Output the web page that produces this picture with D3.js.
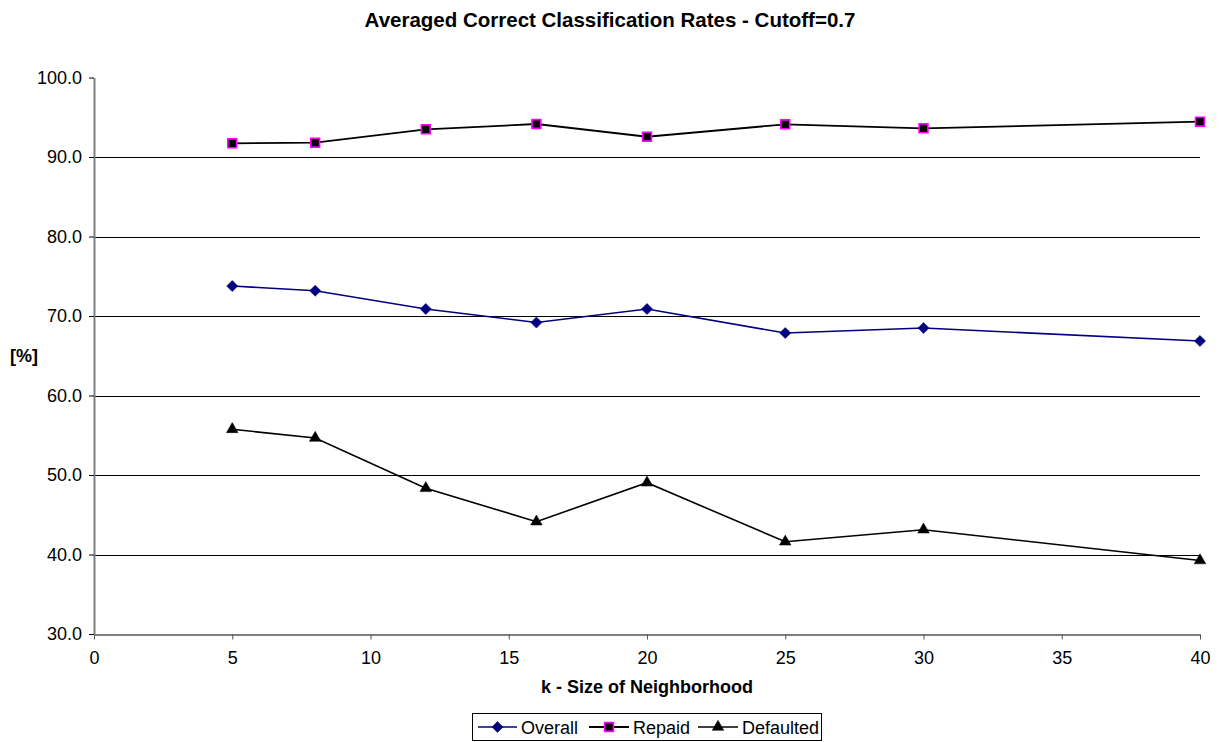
<!DOCTYPE html>
<html>
<head>
<meta charset="utf-8">
<script src="https://cdn.jsdelivr.net/npm/d3@7"></script>
<style>
  html, body { margin: 0; padding: 0; background: #fff; }
  svg { display: block; font-family: "Liberation Sans", Arial, sans-serif; }
</style>
</head>
<body>
<svg id="chart" width="1220" height="742"></svg>
<script>
// ---- data ----
const kValues = [5, 8, 12, 16, 20, 25, 30, 40];
const overall = [73.77, 73.18, 70.88, 69.18, 70.88, 67.86, 68.49, 66.86];
const repaid = [91.72, 91.80, 93.48, 94.15, 92.55, 94.11, 93.61, 94.44];
const defaulted = [55.75, 54.65, 48.33, 44.13, 49.03, 41.60, 43.12, 39.25];
const seriesNames = ["Overall", "Repaid", "Defaulted"];
const xTicks = [0, 5, 10, 15, 20, 25, 30, 35, 40];
const yTicks = [30, 40, 50, 60, 70, 80, 90, 100];
const titleText = "Averaged Correct Classification Rates - Cutoff=0.7";
const xTitle = "k - Size of Neighborhood";
const yTitle = "[%]";

(function () {
// ---- layout ----
const svg = d3.select("#chart");
const pLeft = 94, pRight = 1200, pTop = 77.5, pBottom = 634;
const x = d3.scaleLinear().domain([0, 40]).range([pLeft, pRight]);
const y = d3.scaleLinear().domain([30, 100]).range([pBottom, pTop]);

// gridlines
svg.append("g")
  .selectAll("line")
  .data(yTicks.filter(d => d > 30 && d < 100))
  .join("line")
  .attr("x1", pLeft).attr("x2", pRight)
  .attr("y1", d => Math.round(y(d)) + 0.5).attr("y2", d => Math.round(y(d)) + 0.5)
  .attr("stroke", "#000").attr("stroke-width", 1);

// x axis
const xAxis = svg.append("g")
  .attr("transform", `translate(0,${Math.round(pBottom) + 0.5})`)
  .call(d3.axisBottom(x).tickValues(xTicks).tickSizeInner(5).tickSizeOuter(0).tickFormat(d3.format("d")));
xAxis.select(".domain").attr("stroke", "#000").attr("stroke-width", 1.2);
xAxis.selectAll(".tick line").attr("stroke", "#555");
xAxis.selectAll(".tick text").attr("font-size", 18).attr("fill", "#000").attr("dy", "1.2em")
  .attr("font-family", "Liberation Sans, Arial, sans-serif");

// y axis
const yAxis = svg.append("g")
  .attr("transform", `translate(${pLeft},0)`)
  .call(d3.axisLeft(y).tickValues(yTicks).tickSizeInner(5).tickSizeOuter(0).tickFormat(d3.format(".1f")));
yAxis.select(".domain").attr("stroke", "#808080").attr("stroke-width", 2);
yAxis.selectAll(".tick line").attr("stroke", "#000");
yAxis.selectAll(".tick text").attr("font-size", 18).attr("fill", "#000").attr("x", -12)
  .attr("font-family", "Liberation Sans, Arial, sans-serif");

// titles
svg.append("text").attr("x", 610).attr("y", 27).attr("text-anchor", "middle")
  .attr("font-size", 20.5).attr("font-weight", "bold").text(titleText);
svg.append("text").attr("x", (pLeft + pRight) / 2).attr("y", 693).attr("text-anchor", "middle")
  .attr("font-size", 18).attr("font-weight", "bold").text(xTitle);
svg.append("text").attr("x", 24).attr("y", y(65) + 6).attr("text-anchor", "middle")
  .attr("font-size", 18).attr("font-weight", "bold").text(yTitle);

// series definitions
const diamond = d3.symbol().type(d3.symbolSquare).size(62)();
const square = d3.symbol().type(d3.symbolSquare).size(78)();
const triangle = d3.symbol().type(d3.symbolTriangle).size(58)();

const series = [
  { name: seriesNames[0], values: overall, line: "#000080", width: 1.6, path: diamond, rot: 45, fill: "#000080", stroke: "#000080", sw: 0.5 },
  { name: seriesNames[1], values: repaid, line: "#000", width: 1.8, path: square, rot: 0, fill: "#000", stroke: "#ff00ff", sw: 1.6 },
  { name: seriesNames[2], values: defaulted, line: "#000", width: 1.6, path: triangle, rot: 0, fill: "#000", stroke: "#000", sw: 0.5 }
];

const lineGen = d3.line().x(d => x(d[0])).y(d => y(d[1]));

series.forEach(s => {
  const pts = kValues.map((k, i) => [k, s.values[i]]);
  svg.append("path").datum(pts).attr("d", lineGen)
    .attr("fill", "none").attr("stroke", s.line).attr("stroke-width", s.width);
  svg.append("g").selectAll("path").data(pts).join("path")
    .attr("d", s.path)
    .attr("transform", d => `translate(${x(d[0])},${y(d[1])}) rotate(${s.rot})`)
    .attr("fill", s.fill).attr("stroke", s.stroke).attr("stroke-width", s.sw);
});

// legend
const lg = svg.append("g");
lg.append("rect").attr("x", 472.5).attr("y", 713.5).attr("width", 349).attr("height", 27)
  .attr("fill", "#fff").attr("stroke", "#000").attr("stroke-width", 1);
const legendItems = [
  { s: series[0], x0: 478, x1: 517, tx: 521 },
  { s: series[1], x0: 589, x1: 629, tx: 633 },
  { s: series[2], x0: 698, x1: 738, tx: 742 }
];
const ly = 727;
legendItems.forEach(it => {
  lg.append("line").attr("x1", it.x0).attr("x2", it.x1).attr("y1", ly).attr("y2", ly)
    .attr("stroke", it.s.line).attr("stroke-width", it.s.width);
  lg.append("path").attr("d", it.s.path)
    .attr("transform", `translate(${(it.x0 + it.x1) / 2},${ly}) rotate(${it.s.rot})`)
    .attr("fill", it.s.fill).attr("stroke", it.s.stroke).attr("stroke-width", it.s.sw);
  lg.append("text").attr("x", it.tx).attr("y", ly + 6.5).attr("font-size", 18).text(it.s.name);
});
})();
</script>
</body>
</html>
